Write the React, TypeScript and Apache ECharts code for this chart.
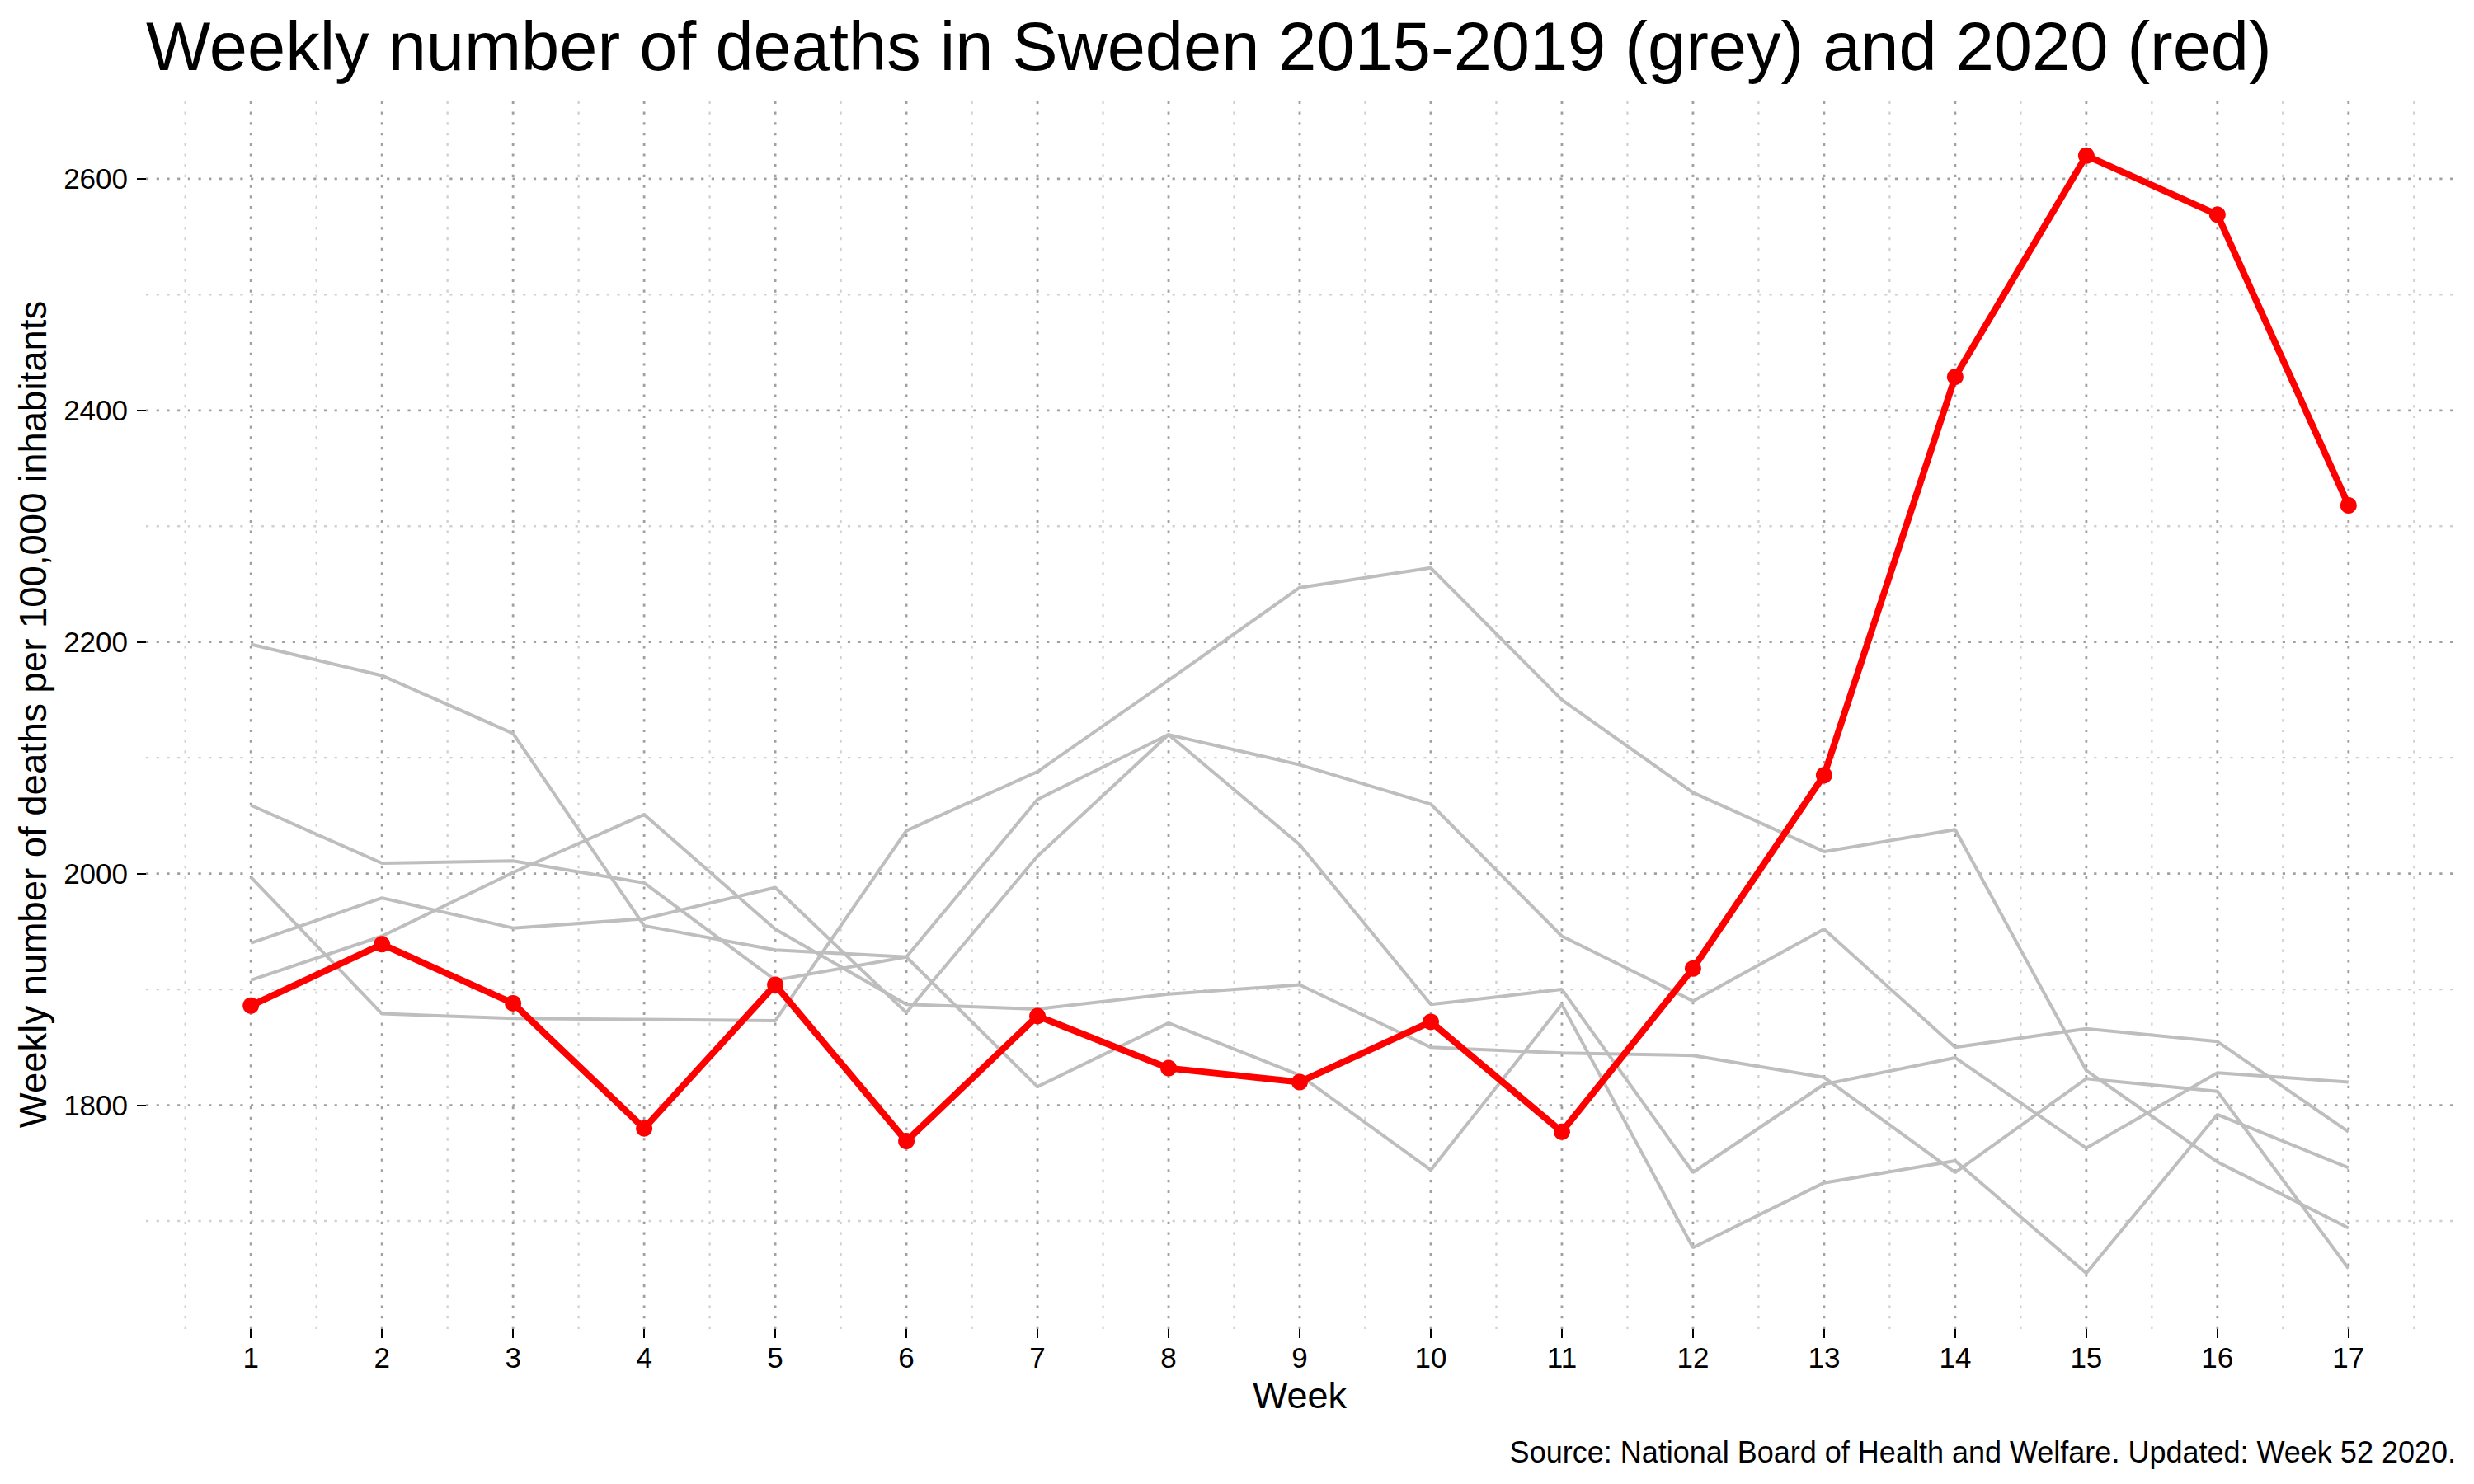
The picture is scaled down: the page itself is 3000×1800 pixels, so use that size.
import React, { useEffect, useRef } from "react";
import * as echarts from "echarts";

const weeks = [1, 2, 3, 4, 5, 6, 7, 8, 9, 10, 11, 12, 13, 14, 15, 16, 17];
const weekHalves = [0.5, 1.5, 2.5, 3.5, 4.5, 5.5, 6.5, 7.5, 8.5, 9.5, 10.5, 11.5, 12.5, 13.5, 14.5, 15.5, 16.5, 17.5];

const deaths2015 = [2059, 2009, 2011, 1992, 1908, 1928, 2064, 2120, 2094, 2060, 1946, 1890, 1952, 1850, 1866, 1855, 1777];
const deaths2016 = [1908, 1946, 2001, 2051, 1952, 1887, 1883, 1896, 1904, 1850, 1845, 1843, 1824, 1742, 1823, 1812, 1659];
const deaths2017 = [2198, 2171, 2121, 1955, 1934, 1928, 1816, 1871, 1826, 1744, 1887, 1677, 1733, 1752, 1655, 1792, 1746];
const deaths2018 = [1997, 1879, 1875, 1874, 1873, 2037, 2088, 2167, 2247, 2264, 2150, 2070, 2019, 2038, 1830, 1751, 1694];
const deaths2019 = [1940, 1979, 1953, 1961, 1988, 1880, 2015, 2120, 2025, 1887, 1900, 1742, 1818, 1841, 1763, 1828, 1820];
const deaths2020 = [1886, 1939, 1888, 1780, 1904, 1769, 1877, 1832, 1820, 1872, 1777, 1918, 2085, 2429, 2620, 2569, 2318];

const yTicks = [1800, 2000, 2200, 2400, 2600];
const yMinorTicks = [1700, 1900, 2100, 2300, 2500];

const greySeries = [
  { name: "2015", values: deaths2015 },
  { name: "2016", values: deaths2016 },
  { name: "2017", values: deaths2017 },
  { name: "2018", values: deaths2018 },
  { name: "2019", values: deaths2019 },
];

const FONT = "Liberation Sans";

export default function App() {
  const ref = useRef<HTMLDivElement>(null);

  useEffect(() => {
    if (!ref.current) return;
    const chart = echarts.init(ref.current, undefined, { renderer: "svg" });

    const all = [...deaths2015, ...deaths2016, ...deaths2017, ...deaths2018, ...deaths2019, ...deaths2020];
    const dMin = Math.min(...all);
    const dMax = Math.max(...all);
    const yMin = dMin - 0.05 * (dMax - dMin);
    const yMax = dMax + 0.05 * (dMax - dMin);
    const xMin = weeks[0] - 0.05 * (weeks[weeks.length - 1] - weeks[0]);
    const xMax = weeks[weeks.length - 1] + 0.05 * (weeks[weeks.length - 1] - weeks[0]);

    const gridData: number[][] = [];
    weekHalves.forEach((x) => gridData.push([x, yMin, x, yMax, 0]));
    yMinorTicks.forEach((y) => gridData.push([xMin, y, xMax, y, 0]));
    weeks.forEach((x) => gridData.push([x, yMin, x, yMax, 1]));
    yTicks.forEach((y) => gridData.push([xMin, y, xMax, y, 1]));

    const option: any = {
      animation: false,
      backgroundColor: "#ffffff",
      title: [
        {
          text: "Weekly number of deaths in Sweden 2015-2019 (grey) and 2020 (red)",
          left: 172,
          top: 10,
          textStyle: { fontFamily: FONT, fontSize: 83, fontWeight: "normal", color: "#000" },
        },
        {
          text: "Source: National Board of Health and Welfare. Updated: Week 52 2020.",
          right: 17,
          top: 1738,
          textStyle: { fontFamily: FONT, fontSize: 36, fontWeight: "normal", color: "#000" },
        },
      ],
      grid: { left: 177, right: 25, top: 121, bottom: 188, containLabel: false },
      xAxis: {
        type: "value",
        min: xMin,
        max: xMax,
        name: "Week",
        nameLocation: "middle",
        nameGap: 58,
        nameTextStyle: { fontFamily: FONT, fontSize: 45, color: "#000" },
        axisLine: { show: false, onZero: false },
        axisTick: { show: true, customValues: weeks, length: 11, lineStyle: { color: "#000", width: 2 } },
        axisLabel: { customValues: weeks, margin: 17, fontFamily: FONT, fontSize: 35, color: "#000" },
        splitLine: { show: false },
      },
      yAxis: {
        type: "value",
        min: yMin,
        max: yMax,
        name: "Weekly number of deaths per 100,000 inhabitants",
        nameLocation: "middle",
        nameRotate: 90,
        nameGap: 114,
        nameTextStyle: { fontFamily: FONT, fontSize: 45.5, color: "#000" },
        axisLine: { show: false },
        axisTick: { show: true, customValues: yTicks, length: 11, lineStyle: { color: "#000", width: 2 } },
        axisLabel: {
          customValues: yTicks,
          margin: 22,
          fontFamily: FONT,
          fontSize: 35,
          color: "#000",
          formatter: (v: number) => String(Math.round(v)),
        },
        splitLine: { show: false },
      },
      series: [
        {
          type: "custom",
          name: "grid",
          silent: true,
          z: 0,
          clip: false,
          data: gridData,
          renderItem: (params: any, api: any) => {
            const p1 = api.coord([api.value(0), api.value(1)]);
            const p2 = api.coord([api.value(2), api.value(3)]);
            const major = api.value(4) === 1;
            return {
              type: "line",
              shape: { x1: p1[0], y1: p1[1], x2: p2[0], y2: p2[1] },
              style: {
                stroke: major ? "#a0a0a0" : "#d0d0d0",
                lineWidth: major ? 2.8 : 2.3,
                lineDash: [3.2, 9.5],
              },
              silent: true,
            };
          },
        },
        ...greySeries.map((s) => ({
          type: "line",
          name: s.name,
          data: weeks.map((w, i) => [w, s.values[i]]),
          showSymbol: false,
          symbol: "none",
          z: 2,
          lineStyle: { color: "#bebebe", width: 4 },
          silent: true,
        })),
        {
          type: "line",
          name: "2020",
          data: weeks.map((w, i) => [w, deaths2020[i]]),
          symbol: "circle",
          symbolSize: 20,
          z: 3,
          lineStyle: { color: "#ff0000", width: 8 },
          itemStyle: { color: "#ff0000" },
          silent: true,
        },
      ],
    };

    chart.setOption(option);
    return () => chart.dispose();
  }, []);

  return (
    <div
      ref={ref}
      style={{ position: "fixed", left: 0, top: 0, width: 3000, height: 1800, background: "#fff" }}
    />
  );
}
